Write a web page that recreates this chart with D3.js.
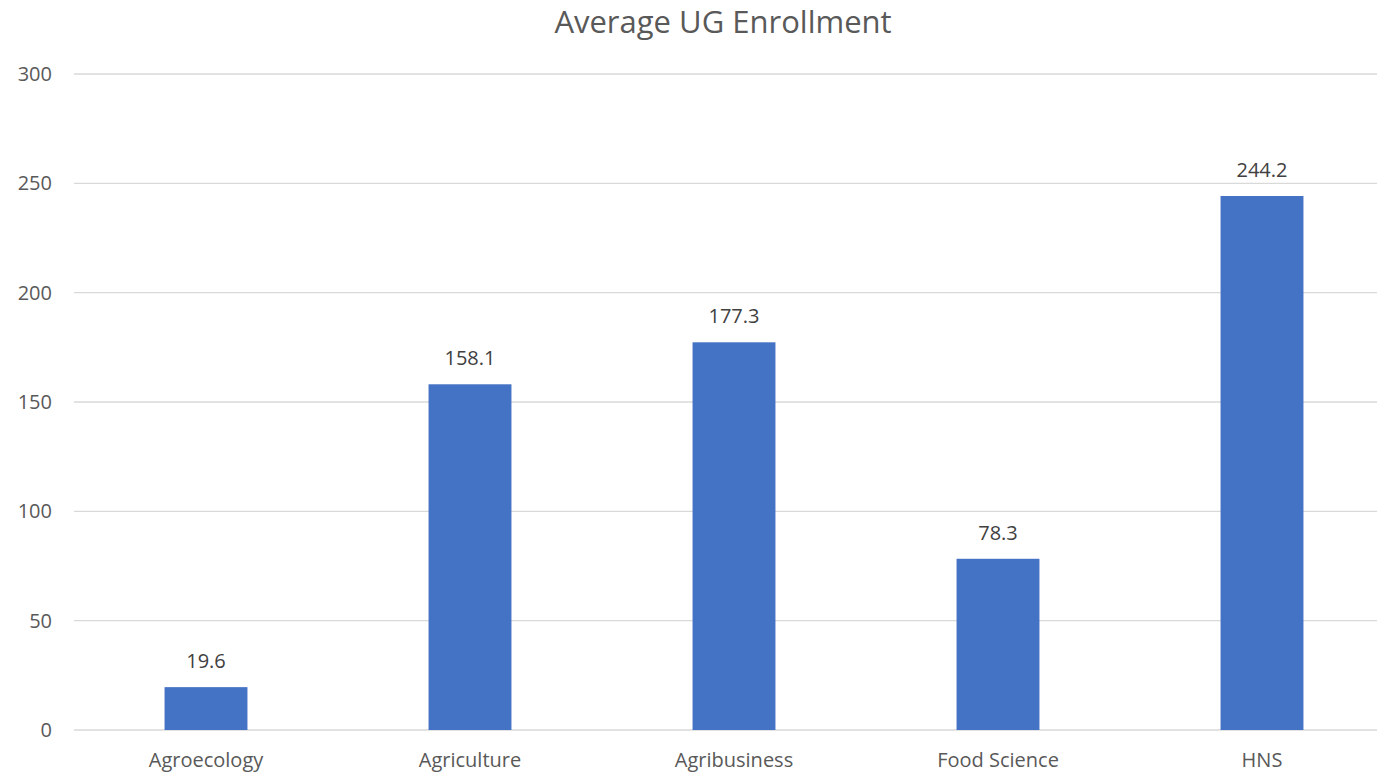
<!DOCTYPE html>
<html>
<head>
<meta charset="utf-8">
<script src="https://cdn.jsdelivr.net/npm/d3@7"></script>
<style>
  body { margin: 0; background: #fff; }
  text { font-family: "Open Sans", "Noto Sans", sans-serif; }
</style>
</head>
<body>
<div id="chart"></div>
<script>
const categories = ["Agroecology", "Agriculture", "Agribusiness", "Food Science", "HNS"]
const values = [19.6, 158.1, 177.3, 78.3, 244.2]
const yTicks = [0, 50, 100, 150, 200, 250, 300]

const W = 1377, H = 774

const svg = d3.select("#chart")
  .append("svg")
  .attr("width", W)
  .attr("height", H)

const x = d3.scaleBand()
  .domain(categories)
  .range([74, 1394])
  .paddingInner(0.686)
  .paddingOuter(0.343)

const y = d3.scaleLinear()
  .domain([0, 300])
  .range([730, 74])

// gridlines
svg.append("g")
  .selectAll("line")
  .data(yTicks)
  .enter()
  .append("line")
  .attr("x1", 74)
  .attr("x2", 1394)
  .attr("y1", d => y(d))
  .attr("y2", d => y(d))
  .attr("stroke", "#d9d9d9")
  .attr("stroke-width", 1.3)

// y axis labels
const yAxis = svg.append("g")
  .attr("transform", "translate(74,0)")
  .call(d3.axisLeft(y).tickValues(yTicks).tickSize(0).tickPadding(22))
yAxis.select(".domain").remove()
yAxis.selectAll("text")
  .attr("fill", "#595959")
  .attr("font-size", "20px")
  .style("font-family", "'Open Sans', sans-serif")

// bars
svg.append("g")
  .selectAll("rect")
  .data(values)
  .enter()
  .append("rect")
  .attr("x", (d, i) => x(categories[i]))
  .attr("y", d => y(d))
  .attr("width", x.bandwidth())
  .attr("height", d => y(0) - y(d))
  .attr("fill", "#4472c4")

// value labels
svg.append("g")
  .selectAll("text")
  .data(values)
  .enter()
  .append("text")
  .attr("x", (d, i) => x(categories[i]) + x.bandwidth() / 2)
  .attr("y", d => y(d) - 19)
  .attr("text-anchor", "middle")
  .attr("fill", "#404040")
  .attr("font-size", "20px")
  .text(d => d.toFixed(1))

// x axis labels
const xAxis = svg.append("g")
  .attr("transform", "translate(0,730)")
  .call(d3.axisBottom(x).tickSize(0).tickPadding(23))
xAxis.select(".domain").remove()
xAxis.selectAll("text")
  .attr("fill", "#595959")
  .attr("font-size", "20px")
  .style("font-family", "'Open Sans', sans-serif")

// title
svg.append("text")
  .attr("x", 723)
  .attr("y", 33)
  .attr("text-anchor", "middle")
  .attr("fill", "#595959")
  .attr("font-size", "31px")
  .text("Average UG Enrollment")
</script>
</body>
</html>
